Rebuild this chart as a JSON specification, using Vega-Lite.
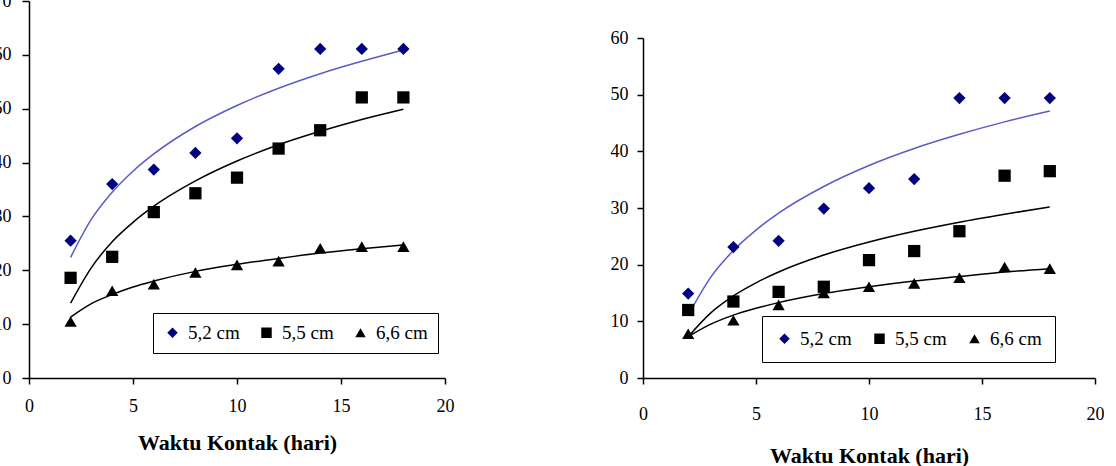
{
  "$schema": "https://vega.github.io/schema/vega-lite/v6.json",
  "background": "white",
  "padding": {"left": -7, "top": -8, "right": 0, "bottom": 0},
  "config": {
    "view": {"stroke": null},
    "font": "Liberation Serif",
    "axis": {
      "domainColor": "black", "domainWidth": 1.5, "tickColor": "black", "tickWidth": 1.5, "tickSize": 6,
      "labelColor": "black", "labelFont": "Liberation Serif", "labelFontSize": 18, "grid": false,
      "titleFont": "Liberation Serif", "titleFontSize": 22, "titleFontWeight": "bold", "titleColor": "black",
      "labelFlush": false, "labelOverlap": false
    }
  },
  "datasets": {
    "ptsL": [
      {"series": "5,2 cm", "x": 2, "y": 25.5}, {"series": "5,2 cm", "x": 4, "y": 36.0}, {"series": "5,2 cm", "x": 6, "y": 38.7},
      {"series": "5,2 cm", "x": 8, "y": 41.8}, {"series": "5,2 cm", "x": 10, "y": 44.5}, {"series": "5,2 cm", "x": 12, "y": 57.4},
      {"series": "5,2 cm", "x": 14, "y": 61.1}, {"series": "5,2 cm", "x": 16, "y": 61.1}, {"series": "5,2 cm", "x": 18, "y": 61.1},
      {"series": "5,5 cm", "x": 2, "y": 18.6}, {"series": "5,5 cm", "x": 4, "y": 22.5}, {"series": "5,5 cm", "x": 6, "y": 30.8},
      {"series": "5,5 cm", "x": 8, "y": 34.3}, {"series": "5,5 cm", "x": 10, "y": 37.2}, {"series": "5,5 cm", "x": 12, "y": 42.6},
      {"series": "5,5 cm", "x": 14, "y": 46.0}, {"series": "5,5 cm", "x": 16, "y": 52.1}, {"series": "5,5 cm", "x": 18, "y": 52.1},
      {"series": "6,6 cm", "x": 2, "y": 10.5}, {"series": "6,6 cm", "x": 4, "y": 16.2}, {"series": "6,6 cm", "x": 6, "y": 17.4},
      {"series": "6,6 cm", "x": 8, "y": 19.6}, {"series": "6,6 cm", "x": 10, "y": 21.0}, {"series": "6,6 cm", "x": 12, "y": 21.7},
      {"series": "6,6 cm", "x": 14, "y": 24.1}, {"series": "6,6 cm", "x": 16, "y": 24.4}, {"series": "6,6 cm", "x": 18, "y": 24.4}
    ],
    "fitL": [
      {"series": "5,2 cm", "x": 2, "y": 22.4}, {"series": "5,2 cm", "x": 3, "y": 29.5}, {"series": "5,2 cm", "x": 4, "y": 34.5},
      {"series": "5,2 cm", "x": 5, "y": 38.4}, {"series": "5,2 cm", "x": 6, "y": 41.6}, {"series": "5,2 cm", "x": 8, "y": 46.7},
      {"series": "5,2 cm", "x": 10, "y": 50.6}, {"series": "5,2 cm", "x": 12, "y": 53.8}, {"series": "5,2 cm", "x": 14, "y": 56.5},
      {"series": "5,2 cm", "x": 16, "y": 58.8}, {"series": "5,2 cm", "x": 18, "y": 60.9},
      {"series": "5,5 cm", "x": 2, "y": 13.9}, {"series": "5,5 cm", "x": 3, "y": 20.5}, {"series": "5,5 cm", "x": 4, "y": 25.3},
      {"series": "5,5 cm", "x": 5, "y": 28.9}, {"series": "5,5 cm", "x": 6, "y": 31.9}, {"series": "5,5 cm", "x": 8, "y": 36.6},
      {"series": "5,5 cm", "x": 10, "y": 40.3}, {"series": "5,5 cm", "x": 12, "y": 43.3}, {"series": "5,5 cm", "x": 14, "y": 45.8},
      {"series": "5,5 cm", "x": 16, "y": 48.0}, {"series": "5,5 cm", "x": 18, "y": 49.9},
      {"series": "6,6 cm", "x": 2, "y": 11.3}, {"series": "6,6 cm", "x": 3, "y": 13.8}, {"series": "6,6 cm", "x": 4, "y": 15.5},
      {"series": "6,6 cm", "x": 5, "y": 16.9}, {"series": "6,6 cm", "x": 6, "y": 18.0}, {"series": "6,6 cm", "x": 8, "y": 19.8},
      {"series": "6,6 cm", "x": 10, "y": 21.1}, {"series": "6,6 cm", "x": 12, "y": 22.2}, {"series": "6,6 cm", "x": 14, "y": 23.2},
      {"series": "6,6 cm", "x": 16, "y": 24.0}, {"series": "6,6 cm", "x": 18, "y": 24.7}
    ],
    "ptsR": [
      {"series": "5,2 cm", "x": 2, "y": 14.9}, {"series": "5,2 cm", "x": 4, "y": 23.1}, {"series": "5,2 cm", "x": 6, "y": 24.2},
      {"series": "5,2 cm", "x": 8, "y": 29.9}, {"series": "5,2 cm", "x": 10, "y": 33.5}, {"series": "5,2 cm", "x": 12, "y": 35.1},
      {"series": "5,2 cm", "x": 14, "y": 49.4}, {"series": "5,2 cm", "x": 16, "y": 49.4}, {"series": "5,2 cm", "x": 18, "y": 49.4},
      {"series": "5,5 cm", "x": 2, "y": 12.0}, {"series": "5,5 cm", "x": 4, "y": 13.5}, {"series": "5,5 cm", "x": 6, "y": 15.2},
      {"series": "5,5 cm", "x": 8, "y": 16.1}, {"series": "5,5 cm", "x": 10, "y": 20.8}, {"series": "5,5 cm", "x": 12, "y": 22.4},
      {"series": "5,5 cm", "x": 14, "y": 25.9}, {"series": "5,5 cm", "x": 16, "y": 35.7}, {"series": "5,5 cm", "x": 18, "y": 36.5},
      {"series": "6,6 cm", "x": 2, "y": 7.8}, {"series": "6,6 cm", "x": 4, "y": 10.2}, {"series": "6,6 cm", "x": 6, "y": 12.9},
      {"series": "6,6 cm", "x": 8, "y": 15.0}, {"series": "6,6 cm", "x": 10, "y": 16.1}, {"series": "6,6 cm", "x": 12, "y": 16.7},
      {"series": "6,6 cm", "x": 14, "y": 17.7}, {"series": "6,6 cm", "x": 16, "y": 19.6}, {"series": "6,6 cm", "x": 18, "y": 19.3}
    ],
    "fitR": [
      {"series": "5,2 cm", "x": 2, "y": 11.1}, {"series": "5,2 cm", "x": 3, "y": 17.8}, {"series": "5,2 cm", "x": 4, "y": 22.5},
      {"series": "5,2 cm", "x": 5, "y": 26.1}, {"series": "5,2 cm", "x": 6, "y": 29.1}, {"series": "5,2 cm", "x": 8, "y": 33.8},
      {"series": "5,2 cm", "x": 10, "y": 37.5}, {"series": "5,2 cm", "x": 12, "y": 40.5}, {"series": "5,2 cm", "x": 14, "y": 43.0},
      {"series": "5,2 cm", "x": 16, "y": 45.2}, {"series": "5,2 cm", "x": 18, "y": 47.1},
      {"series": "5,5 cm", "x": 2, "y": 7.3}, {"series": "5,5 cm", "x": 3, "y": 11.5}, {"series": "5,5 cm", "x": 4, "y": 14.5},
      {"series": "5,5 cm", "x": 5, "y": 16.8}, {"series": "5,5 cm", "x": 6, "y": 18.7}, {"series": "5,5 cm", "x": 8, "y": 21.7},
      {"series": "5,5 cm", "x": 10, "y": 24.0}, {"series": "5,5 cm", "x": 12, "y": 25.9}, {"series": "5,5 cm", "x": 14, "y": 27.5},
      {"series": "5,5 cm", "x": 16, "y": 28.9}, {"series": "5,5 cm", "x": 18, "y": 30.2},
      {"series": "6,6 cm", "x": 2, "y": 7.3}, {"series": "6,6 cm", "x": 3, "y": 9.5}, {"series": "6,6 cm", "x": 4, "y": 11.1},
      {"series": "6,6 cm", "x": 5, "y": 12.3}, {"series": "6,6 cm", "x": 6, "y": 13.3}, {"series": "6,6 cm", "x": 8, "y": 14.9},
      {"series": "6,6 cm", "x": 10, "y": 16.1}, {"series": "6,6 cm", "x": 12, "y": 17.1}, {"series": "6,6 cm", "x": 14, "y": 17.9},
      {"series": "6,6 cm", "x": 16, "y": 18.7}, {"series": "6,6 cm", "x": 18, "y": 19.3}
    ]
  },
  "spacing": 156,
  "resolve": {
    "scale": {"color": "independent", "shape": "independent"},
    "legend": {"color": "independent", "shape": "independent"}
  },
  "hconcat": [
    {
      "width": 416, "height": 377,
      "encoding": {
        "x": {"field": "x", "type": "quantitative", "scale": {"domain": [0, 20], "nice": false},
              "axis": {"values": [0, 5, 10, 15, 20], "title": "Waktu Kontak (hari)", "labelPadding": 13, "titlePadding": 17}},
        "y": {"field": "y", "type": "quantitative", "scale": {"domain": [0, 70], "nice": false},
              "axis": {"values": [0, 10, 20, 30, 40, 50, 60, 70], "title": null, "labelPadding": 11, "tickSize": 7}}
      },
      "layer": [
        {
          "data": {"name": "fitL"},
          "transform": [{"filter": "datum.series == '5,2 cm'"}],
          "mark": {"type": "line", "strokeWidth": 1.5, "interpolate": "monotone", "color": "#5b5bc8"}
        },
        {
          "data": {"name": "fitL"},
          "transform": [{"filter": "datum.series != '5,2 cm'"}],
          "mark": {"type": "line", "strokeWidth": 1.5, "interpolate": "monotone", "color": "#000000"},
          "encoding": {"detail": {"field": "series", "type": "nominal"}}
        },
        {
          "data": {"name": "ptsL"},
          "mark": {"type": "point", "filled": true, "size": 150, "opacity": 1},
          "encoding": {
            "color": {"field": "series", "type": "nominal",
                      "scale": {"domain": ["5,2 cm", "5,5 cm", "6,6 cm"], "range": ["#000080", "#000000", "#000000"]},
                      "legend": {"orient": "none", "legendX": 124, "legendY": 312, "direction": "horizontal", "title": null,
                                 "strokeColor": "black", "fillColor": "white", "padding": 10, "columnPadding": 17,
                                 "labelFontSize": 19, "labelFont": "Liberation Serif", "labelColor": "black",
                                 "symbolSize": 110, "labelOffset": 6}},
            "shape": {"field": "series", "type": "nominal",
                      "scale": {"domain": ["5,2 cm", "5,5 cm", "6,6 cm"], "range": ["diamond", "square", "triangle-up"]}}
          }
        }
      ]
    },
    {
      "spacing": 0,
      "resolve": {
        "scale": {"color": "independent", "shape": "independent"},
        "legend": {"color": "independent", "shape": "independent"}
      },
      "vconcat": [
        {
          "width": 10, "height": 28,
          "data": {"values": [{"a": 1}]},
          "mark": {"type": "text"},
          "encoding": {"text": {"value": ""}}
        },
        {
          "width": 452, "height": 340,
          "encoding": {
            "x": {"field": "x", "type": "quantitative", "scale": {"domain": [0, 20], "nice": false},
                  "axis": {"values": [0, 5, 10, 15, 20], "title": "Waktu Kontak (hari)", "labelPadding": 21, "titlePadding": 22}},
            "y": {"field": "y", "type": "quantitative", "scale": {"domain": [0, 60], "nice": false},
                  "axis": {"values": [0, 10, 20, 30, 40, 50, 60], "title": null, "labelPadding": 9, "tickSize": 6}}
          },
          "layer": [
            {
              "data": {"name": "fitR"},
              "transform": [{"filter": "datum.series == '5,2 cm'"}],
              "mark": {"type": "line", "strokeWidth": 1.5, "interpolate": "monotone", "color": "#5b5bc8"}
            },
            {
              "data": {"name": "fitR"},
              "transform": [{"filter": "datum.series != '5,2 cm'"}],
              "mark": {"type": "line", "strokeWidth": 1.5, "interpolate": "monotone", "color": "#000000"},
              "encoding": {"detail": {"field": "series", "type": "nominal"}}
            },
            {
              "data": {"name": "ptsR"},
              "mark": {"type": "point", "filled": true, "size": 150, "opacity": 1},
              "encoding": {
                "color": {"field": "series", "type": "nominal",
                          "scale": {"domain": ["5,2 cm", "5,5 cm", "6,6 cm"], "range": ["#000080", "#000000", "#000000"]},
                          "legend": {"orient": "none", "legendX": 119, "legendY": 278, "direction": "horizontal", "title": null,
                                     "strokeColor": "black", "fillColor": "white", "padding": 13, "columnPadding": 18,
                                     "labelFontSize": 19, "labelFont": "Liberation Serif", "labelColor": "black",
                                     "symbolSize": 110, "labelOffset": 6}},
                "shape": {"field": "series", "type": "nominal",
                          "scale": {"domain": ["5,2 cm", "5,5 cm", "6,6 cm"], "range": ["diamond", "square", "triangle-up"]}}
              }
            }
          ]
        }
      ]
    }
  ]
}
